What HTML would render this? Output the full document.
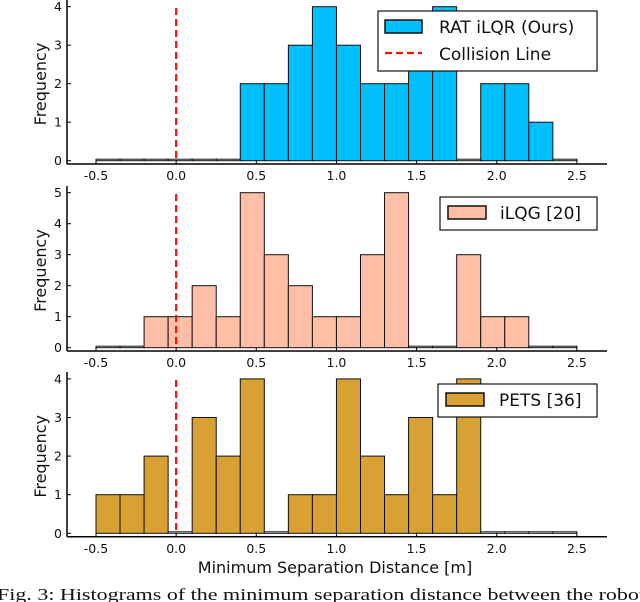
<!DOCTYPE html>
<html><head><meta charset="utf-8"><style>
html,body{margin:0;padding:0;background:#fff;}
svg{display:block;font-family:"DejaVu Sans","Liberation Sans",sans-serif;}
</style></head><body>
<svg id="chart" width="640" height="602" viewBox="0 0 640 602" xmlns="http://www.w3.org/2000/svg"></svg>
<script>
const binStart = -0.5;
const binWidth = 0.15;
const xTicks = [-0.5, 0.0, 0.5, 1.0, 1.5, 2.0, 2.5];
const xTickLabels = ["-0.5","0.0","0.5","1.0","1.5","2.0","2.5"];
const ratCounts  = [0,0,0,0,0,0,2,2,3,4,3,2,2,3,4,0,2,2,1,0];
const ilqgCounts = [0,0,1,1,2,1,5,3,2,1,1,3,5,0,0,3,1,1,0,0];
const petsCounts = [1,1,2,0,3,2,4,0,1,1,4,2,1,3,1,4,0,0,0,0];
const ratYTicks = [0,1,2,3,4];
const ilqgYTicks = [0,1,2,3,4,5];
const petsYTicks = [0,1,2,3,4];

const NS = "http://www.w3.org/2000/svg";
const svg = document.getElementById('chart');
function mk(tag, attrs, parent){
  const e = document.createElementNS(NS, tag);
  for (const k in attrs) e.setAttribute(k, attrs[k]);
  (parent||svg).appendChild(e);
  return e;
}
const X0 = 96, PXU = 160.3;
function xs(v){ return X0 + (v + 0.5) * PXU; }

const panels = [
  {name:'rat-ilqr', counts:ratCounts, yTicks:ratYTicks, y0:160.7, pu:38.5, axisY:164, top:0, tickY:180, color:'#00bfff', label:'RAT iLQR (Ours)',
   legend:{x:378,y:11,w:219,h:60,sw:[385,20,37,13],tx:439,ty:33,collision:true}},
  {name:'ilqg', counts:ilqgCounts, yTicks:ilqgYTicks, y0:347.7, pu:31, axisY:351, top:186, tickY:367, color:'#ffbfa6', label:'iLQG [20]',
   legend:{x:440,y:197,w:157,h:33,sw:[448,206,38,13],tx:500,ty:219}},
  {name:'pets', counts:petsCounts, yTicks:petsYTicks, y0:533.3, pu:38.6, axisY:536.7, top:372, tickY:553, color:'#d9a033', label:'PETS [36]',
   legend:{x:438,y:384,w:159,h:33,sw:[446,393,38,13],tx:499,ty:406}}
];

panels.forEach(p => {
  const g = mk('g', {});
  
  
  function ys(v){ return p.y0 - v * p.pu; }
  p.counts.forEach((c, i) => {
    const a = binStart + i * binWidth, b = a + binWidth;
    const x1 = xs(a), x2 = xs(b);
    const yt = ys(c), yb = ys(0);
    const r = mk('rect', {x:x1, y:Math.min(yt, yb-1.5), width:x2-x1, height:Math.max(yb-yt,1.5), fill:(c>0?p.color:'#fff'), stroke:'#111', 'stroke-width':1}, g);
    
    
  });
  const cl = mk('line', {x1:xs(0), x2:xs(0), y1:p.top+8, y2:ys(0), stroke:'#ee1111', 'stroke-width':2.2, 'stroke-dasharray':'7,4'}, g);
  
  
  const xa = mk('line', {x1:67, x2:607, y1:p.axisY, y2:p.axisY, stroke:'#000', 'stroke-width':1.5}, g);
  
  
  const ya = mk('line', {x1:67, x2:67, y1:p.top, y2:p.axisY, stroke:'#000', 'stroke-width':1.5}, g);
  
  
  xTicks.forEach((t, i) => {
    mk('line', {x1:xs(t), x2:xs(t), y1:p.axisY, y2:p.axisY-4, stroke:'#000', 'stroke-width':1}, g);
    const tx = mk('text', {x:xs(t), y:p.tickY, 'font-size':12.5, 'text-anchor':'middle', fill:'#111'}, g);
    tx.textContent = xTickLabels[i];
    
    
  });
  p.yTicks.forEach(t => {
    mk('line', {x1:67, x2:71, y1:ys(t), y2:ys(t), stroke:'#000', 'stroke-width':1}, g);
    const tx = mk('text', {x:62, y:ys(t)+4.5, 'font-size':12.5, 'text-anchor':'end', fill:'#111'}, g);
    tx.textContent = String(t);
    
    
  });
  const yl = mk('text', {x:0, y:0, 'font-size':16, 'text-anchor':'middle', fill:'#111', transform:'translate(46,'+(p.top+(p.axisY-p.top)/2+2)+') rotate(-90)'}, g);
  yl.textContent = 'Frequency';
  
  
  const L = p.legend;
  const lg = mk('g', {}, g);
  
  
  mk('rect', {x:L.x, y:L.y, width:L.w, height:L.h, fill:'#fff', stroke:'#111', 'stroke-width':1.2}, lg);
  mk('rect', {x:L.sw[0], y:L.sw[1], width:L.sw[2], height:L.sw[3], fill:p.color, stroke:'#111', 'stroke-width':1.5}, lg);
  const lt = mk('text', {x:L.tx, y:L.ty, 'font-size':17, fill:'#111'}, lg);
  lt.textContent = p.label;
  
  
  if (L.collision){
    mk('line', {x1:385, x2:422, y1:53, y2:53, stroke:'#ee1111', 'stroke-width':2.2, 'stroke-dasharray':'7,4'}, lg);
    const ct = mk('text', {x:439, y:60, 'font-size':17, fill:'#111'}, lg);
    ct.textContent = 'Collision Line';
    
    
  }
});

const xl = mk('text', {x:335, y:573, 'font-size':16, 'text-anchor':'middle', fill:'#111'});
xl.textContent = 'Minimum Separation Distance [m]';


const cap = mk('text', {x:-3, y:600, 'font-size':17, fill:'#111', 'font-family':'"Liberation Serif", serif', textLength:648, lengthAdjust:'spacingAndGlyphs'});
cap.textContent = 'Fig. 3: Histograms of the minimum separation distance between the robot';


</script>
</body></html>
